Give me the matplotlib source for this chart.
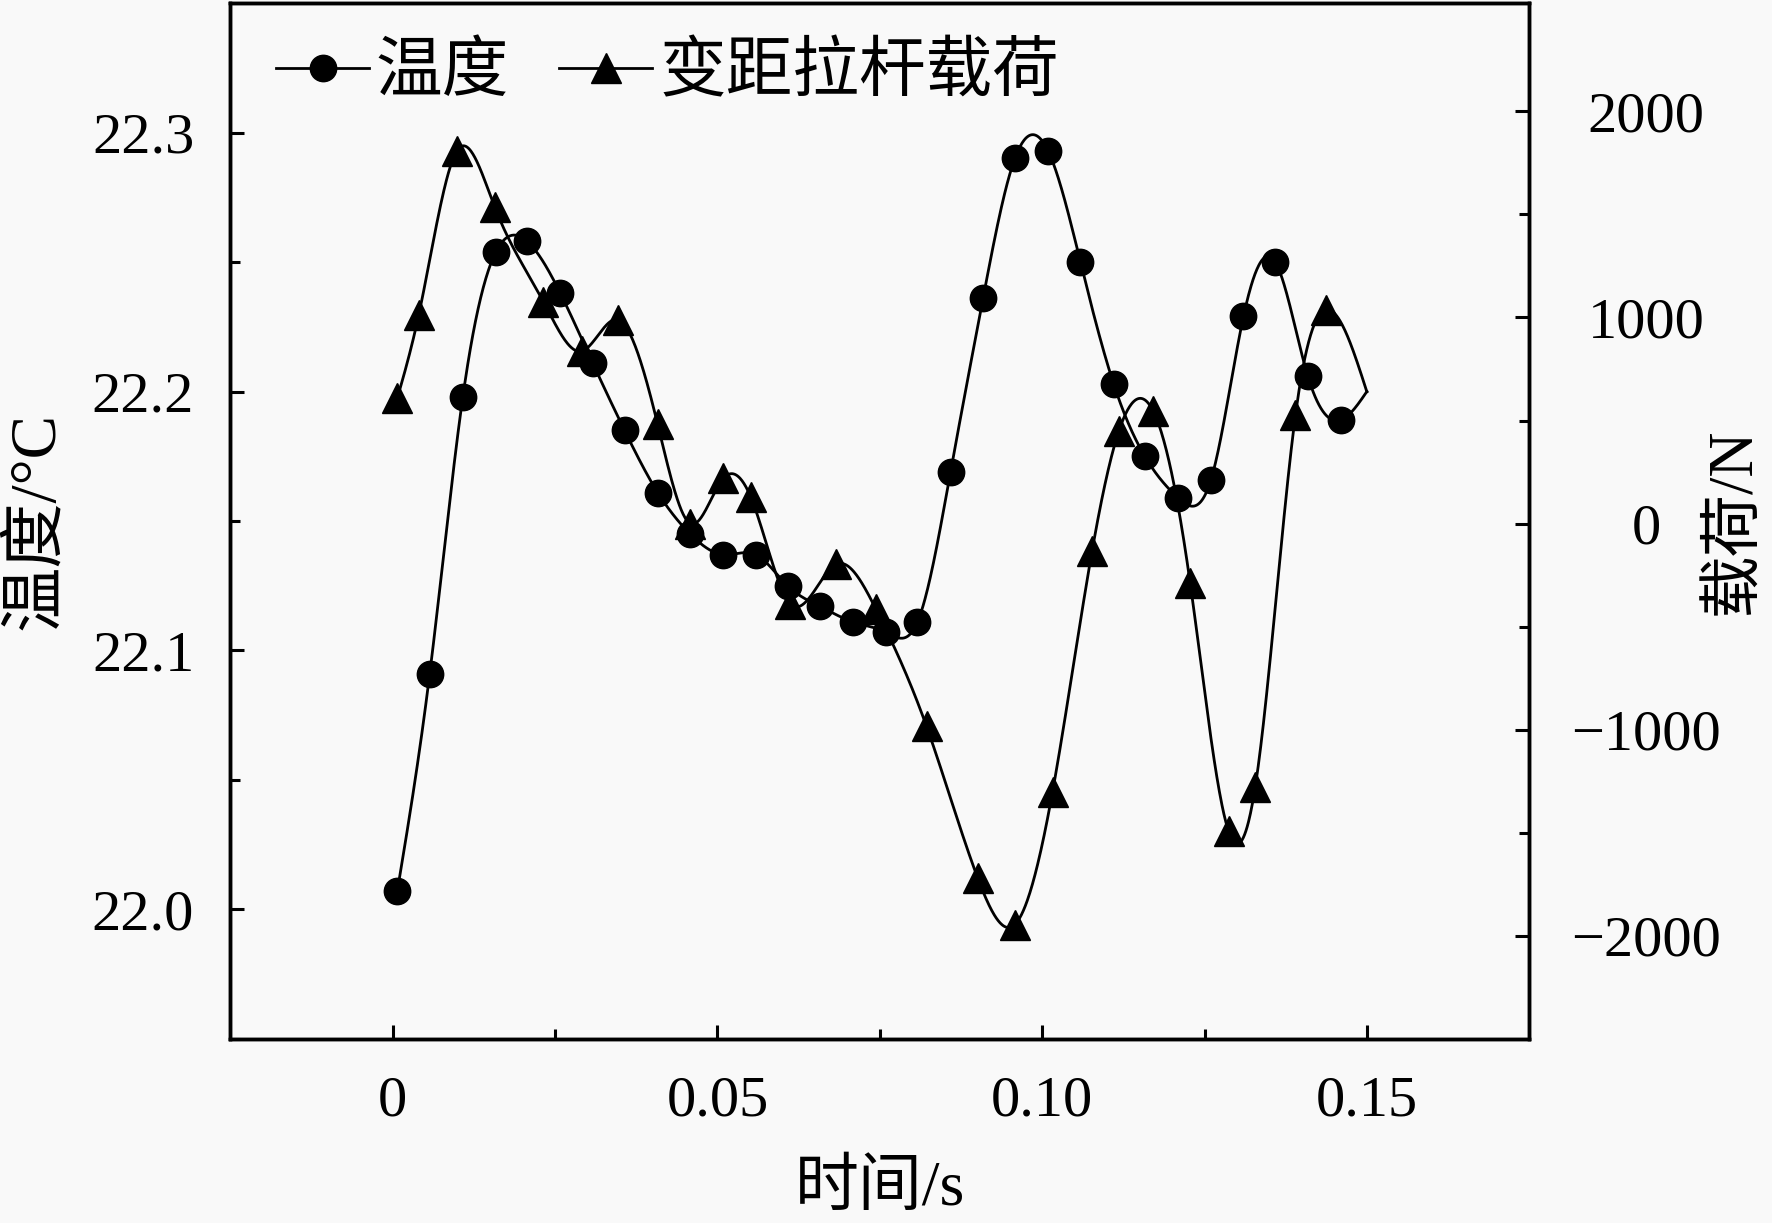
import numpy as np
import matplotlib
matplotlib.use('Agg')
import matplotlib.pyplot as plt
from matplotlib.lines import Line2D

plt.rcParams['font.family'] = ['Liberation Serif', 'Noto Sans CJK SC']
plt.rcParams['axes.unicode_minus'] = True

# temperature (circles), the last point has no marker
t_temp = [0.0007, 0.0057, 0.0108, 0.0159, 0.0207, 0.0258, 0.0308, 0.0357, 0.0408, 0.0458,
          0.0509, 0.0559, 0.0608, 0.0658, 0.0709, 0.0760, 0.0808, 0.0859, 0.0909, 0.0958,
          0.1009, 0.1059, 0.1110, 0.1158, 0.1209, 0.1260, 0.1310, 0.1359, 0.1409, 0.1460, 0.1500]
temp = [22.007, 22.091, 22.198, 22.254, 22.258, 22.238, 22.211, 22.185, 22.161, 22.145,
        22.137, 22.137, 22.125, 22.117, 22.111, 22.107, 22.111, 22.169, 22.236, 22.290,
        22.293, 22.250, 22.203, 22.175, 22.159, 22.166, 22.229, 22.250, 22.206, 22.189, 22.200]

# pitch link load (triangles), the last point has no marker
t_load = [0.0007, 0.0040, 0.0099, 0.0157, 0.0232, 0.0291, 0.0347, 0.0408, 0.0458, 0.0509,
          0.0551, 0.0612, 0.0683, 0.0744, 0.0822, 0.0901, 0.0958, 0.1016, 0.1077, 0.1118,
          0.1171, 0.1228, 0.1287, 0.1328, 0.1390, 0.1437, 0.1500]
load = [607, 1011, 1809, 1536, 1077, 836, 989, 481, 0, 219,
        131, -388, -197, -415, -984, -1721, -1945, -1301, -131, 448,
        546, -290, -1492, -1279, 525, 1038, 639]

labels = ['温度', '变距拉杆载荷']


def spline(x, y, n=1500):
    # natural cubic spline, only for drawing the smooth line
    x = np.asarray(x, float)
    y = np.asarray(y, float)
    m = len(x)
    h = np.diff(x)
    A = np.zeros((m, m))
    b = np.zeros(m)
    A[0, 0] = 1
    A[-1, -1] = 1
    for i in range(1, m - 1):
        A[i, i - 1] = h[i - 1]
        A[i, i] = 2 * (h[i - 1] + h[i])
        A[i, i + 1] = h[i]
        b[i] = 3 * ((y[i + 1] - y[i]) / h[i] - (y[i] - y[i - 1]) / h[i - 1])
    c = np.linalg.solve(A, b)
    xs = np.linspace(x[0], x[-1], n)
    k = np.clip(np.searchsorted(x, xs) - 1, 0, m - 2)
    dx = xs - x[k]
    bb = (y[k + 1] - y[k]) / h[k] - h[k] * (2 * c[k] + c[k + 1]) / 3
    dd = (c[k + 1] - c[k]) / (3 * h[k])
    return xs, y[k] + bb * dx + c[k] * dx ** 2 + dd * dx ** 3


bg = '#f9f9f9'
fig = plt.figure(figsize=(17.72, 12.23), dpi=100, facecolor=bg)
ax = fig.add_axes([0.130, 0.1505, 0.733, 0.847], facecolor=bg)
ax2 = ax.twinx()

lw = 2.0
ms_c = 19
ms_t = 21
xs, ys = spline(t_temp, temp)
ax.plot(xs, ys, '-', color='black', lw=lw)
ax.plot(t_temp[:-1], temp[:-1], 'o', color='black', ms=ms_c, ls='none')

xs, ys = spline(t_load, load)
ax2.plot(xs, ys, '-', color='black', lw=lw)
ax2.plot(t_load[:-1], load[:-1], '^', color='black', ms=ms_t, ls='none')

ax.set_xlim(-0.025, 0.175)
ax.set_ylim(21.95, 22.35)
ax2.set_ylim(-2500, 2525)

ax.set_xticks([0, 0.05, 0.10, 0.15])
ax.set_xticklabels(['0', '0.05', '0.10', '0.15'])
ax.set_xticks([0.025, 0.075, 0.125], minor=True)
ax.set_yticks([22.0, 22.1, 22.2, 22.3])
ax.set_yticklabels(['22.0', '22.1', '22.2', '22.3'])
ax.set_yticks([21.95, 22.05, 22.15, 22.25], minor=True)
ax2.set_yticks([-2000, -1000, 0, 1000, 2000])
ax2.set_yticks([-1500, -500, 500, 1500], minor=True)

for a in (ax, ax2):
    for s in a.spines.values():
        s.set_linewidth(2.5)
ax.tick_params(axis='x', which='both', direction='in', top=False, labelsize=42, pad=26, width=2.2)
ax.tick_params(axis='y', which='both', direction='in', right=False, labelsize=42, pad=26, width=2.2)
ax.tick_params(which='major', length=10)
ax.tick_params(which='minor', length=7)
ax2.tick_params(axis='y', which='both', direction='in', labelsize=42, pad=84, width=2.2)
ax2.tick_params(which='major', length=10)
ax2.tick_params(which='minor', length=7)
for lab in ax2.get_yticklabels():
    lab.set_horizontalalignment('center')

ax.set_xlabel('时间/s', fontsize=46, labelpad=24)
ax.set_ylabel('温度/°C', fontsize=47, labelpad=18)
ax2.set_ylabel('载荷/N', fontsize=45)
ax2.yaxis.set_label_coords(1.136, 0.5)

handles = [Line2D([], [], color='black', lw=lw, marker='o', ms=ms_c),
           Line2D([], [], color='black', lw=lw, marker='^', ms=ms_t)]
ax2.legend(handles, labels, loc='upper left', bbox_to_anchor=(-0.006, 1.013), ncol=2,
           frameon=False, fontsize=48, handlelength=1.4, handletextpad=0.1,
           columnspacing=0.75, borderaxespad=0.4)

fig.savefig('out.png', dpi=100, facecolor=bg)
